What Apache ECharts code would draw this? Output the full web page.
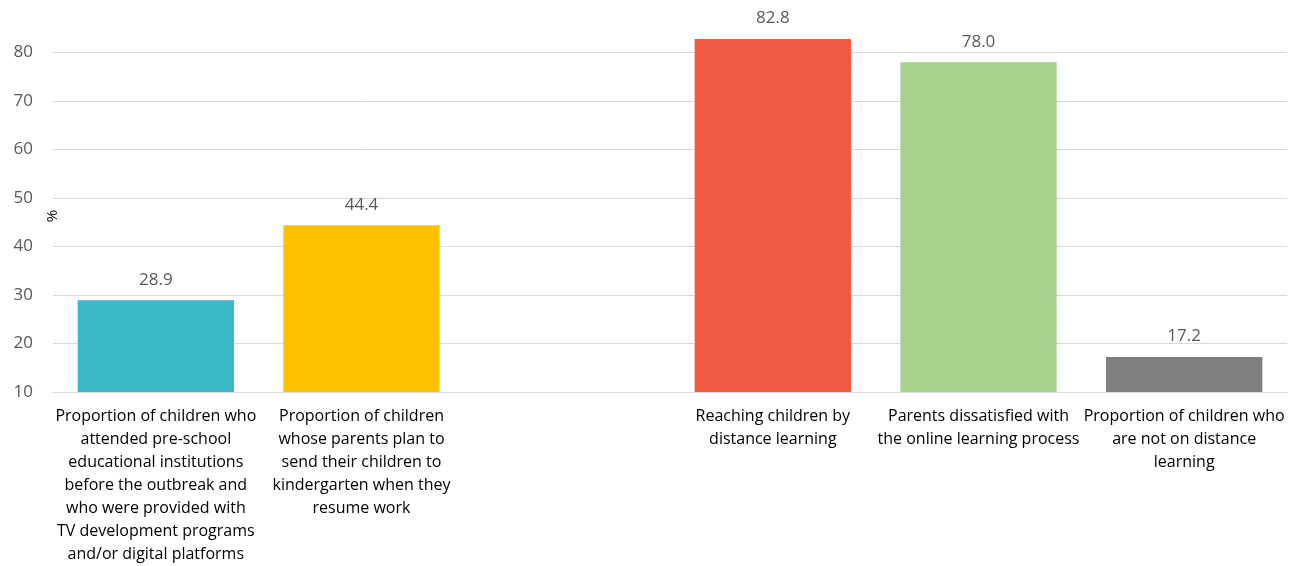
<!DOCTYPE html>
<html>
<head>
<meta charset="utf-8">
<script src="https://cdn.jsdelivr.net/npm/echarts@6/dist/echarts.min.js"></script>
<style>html,body{margin:0;padding:0;background:#fff}#chart{width:1293px;height:566px}</style>
</head>
<body>
<div id="chart"></div>
<script>
const categories = [
  "Proportion of children who\nattended pre-school\neducational institutions\nbefore the outbreak and\nwho were provided with\nTV development programs\nand/or digital platforms",
  "Proportion of children\nwhose parents plan to\nsend their children to\nkindergarten when they\nresume work",
  "",
  "Reaching children by\ndistance learning",
  "Parents dissatisfied with\nthe online learning process",
  "Proportion of children who\nare not on distance\nlearning"
];
const values = [28.9, 44.4, null, 82.8, 78.0, 17.2];
const barColors = ["#3BB9C6", "#FFC000", "#FFFFFF", "#F15A42", "#A9D18E", "#7F7F7F"];
const yTicks = [10, 20, 30, 40, 50, 60, 70, 80];
const yName = "%";

const chart = echarts.init(document.getElementById('chart'));
const FONT = "'Open Sans', 'Noto Sans', sans-serif";
const yMax = yTicks[yTicks.length - 1] + 10;
const gridColors = yTicks.map(() => '#D9D9D9').concat(['rgba(0,0,0,0)']);
chart.setOption({
  animation: false,
  grid: { left: 53, right: 6, top: 4, bottom: 169, containLabel: false },
  xAxis: {
    type: 'category',
    data: categories,
    axisLine: { show: true, lineStyle: { color: '#D9D9D9', width: 1 } },
    axisTick: { show: false },
    axisLabel: {
      interval: 0,
      color: '#000000',
      fontFamily: FONT,
      fontSize: 16,
      lineHeight: 23,
      margin: 13,
      align: 'center'
    }
  },
  yAxis: {
    type: 'value',
    min: yTicks[0],
    max: yMax,
    interval: 10,
    axisLine: { show: false },
    axisTick: { show: false },
    splitLine: { lineStyle: { color: gridColors, width: 1 } },
    axisLabel: {
      color: '#595959',
      fontFamily: FONT,
      fontSize: 17,
      margin: 20,
      showMaxLabel: false
    }
  },
  graphic: [{
    type: 'text',
    x: 53,
    y: 216,
    rotation: Math.PI / 2,
    style: { text: yName, fill: '#000000', font: "15px 'Open Sans', sans-serif", textAlign: 'center', textVerticalAlign: 'middle' }
  }],
  series: [{
    type: 'bar',
    data: values.map((v, i) => ({ value: v, itemStyle: { color: barColors[i] } })),
    barWidth: '76%',
    clip: true,
    label: {
      show: true,
      position: 'top',
      distance: 12,
      color: '#595959',
      fontFamily: FONT,
      fontSize: 17,
      formatter: p => p.value == null ? '' : Number(p.value).toFixed(1)
    }
  }]
});
</script>
</body>
</html>
